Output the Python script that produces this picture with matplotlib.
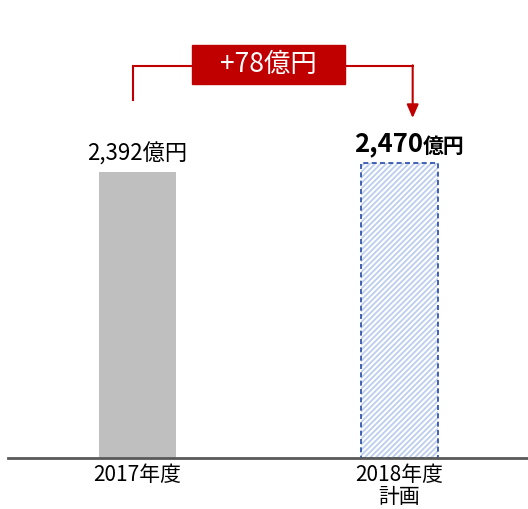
import matplotlib.pyplot as plt
from matplotlib.patches import Rectangle

plt.rcParams['font.family'] = ['Noto Sans CJK JP', 'DejaVu Sans']

years = ['2017年度', '2018年度\n計画']
values = [2392, 2470]  # 億円

fig = plt.figure(figsize=(5.28, 5.09), dpi=100)
ax = fig.add_axes([8 / 528, 1 - 458 / 509, 520 / 528, 458 / 509])
ax.set_xlim(-0.494, 1.490)
ax.set_ylim(0, 3830)

w = 0.294
# actual result: plain gray bar
ax.bar(0, values[0], width=w, color='#BFBFBF', linewidth=0)
# plan: hatched light blue with dashed outline
plt.rcParams['hatch.linewidth'] = 1.3
ax.bar(1, values[1], width=w, color='white', edgecolor='#BCCEEE',
       hatch='//////', linewidth=0)
ax.bar(1, values[1], width=w, fill=False, edgecolor='#2448A8',
       linestyle=(0, (3, 2)), linewidth=1.2)

# value labels
ax.text(0, values[0] + 50, f'{values[0]:,}億円', ha='center', va='bottom',
        fontsize=16, color='black')
ax.text(1.09, values[1] + 45, f'{values[1]:,}', ha='right', va='bottom',
        fontsize=18.5, fontweight='bold', color='black')
ax.text(1.09, values[1] + 45, '億円', ha='left', va='bottom',
        fontsize=15, fontweight='bold', color='black')

# difference arrow
red = '#C00000'
x0, x1, ytop = -0.017, 1.05, 3278
ax.plot([x0, x0, x1], [2993, ytop, ytop], color=red, lw=1.5,
        solid_joinstyle='miter')
ax.annotate('', xy=(x1, 2843), xytext=(x1, ytop + 6),
            arrowprops=dict(arrowstyle='-|>,head_width=0.35,head_length=0.8',
                            color=red, lw=1.5, shrinkA=0, shrinkB=0))
ax.add_patch(Rectangle((0.208, 3127), 0.584, 326, color=red, zorder=3))
diff = values[1] - values[0]
ax.text(0.5, 3290, f'+{diff}億円', ha='center', va='center', fontsize=19,
        color='white', zorder=4)

ax.set_xticks([0, 1])
ax.set_xticklabels(years, fontsize=15, linespacing=1.05)
ax.tick_params(axis='x', length=0, pad=4)
ax.set_yticks([])
for s in ['top', 'right', 'left']:
    ax.spines[s].set_visible(False)
ax.spines['bottom'].set_color('#595959')
ax.spines['bottom'].set_linewidth(2)

fig.savefig('out.png', dpi=100)
